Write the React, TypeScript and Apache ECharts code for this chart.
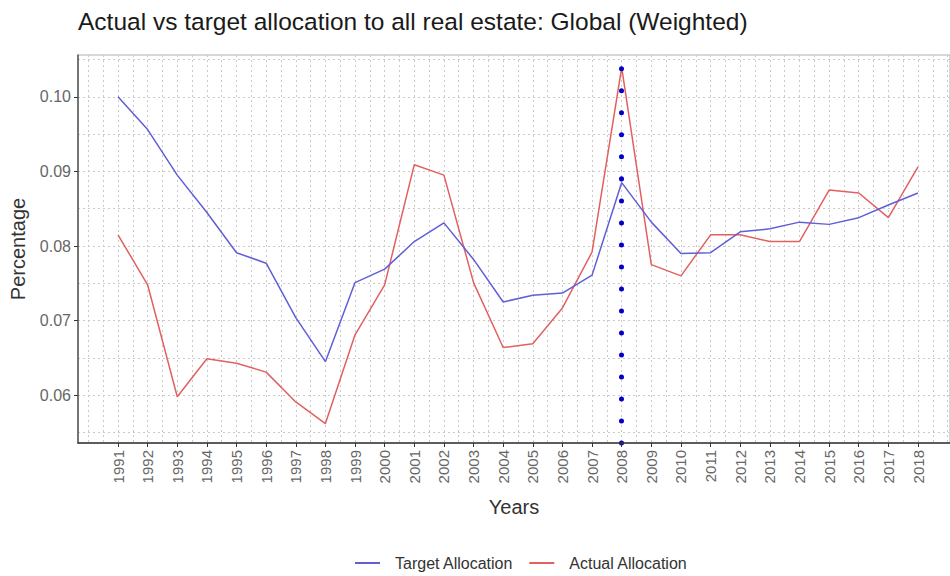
import React, { useEffect, useRef } from "react";
import * as echarts from "echarts";

const years = [
  1991, 1992, 1993, 1994, 1995, 1996, 1997, 1998, 1999, 2000, 2001, 2002, 2003, 2004,
  2005, 2006, 2007, 2008, 2009, 2010, 2011, 2012, 2013, 2014, 2015, 2016, 2017, 2018,
];
const targetAllocation = [
  0.1, 0.0956, 0.0895, 0.0845, 0.0791, 0.0777, 0.0704, 0.0645, 0.0751, 0.0769, 0.0806,
  0.0831, 0.0782, 0.0725, 0.0734, 0.0737, 0.0761, 0.0885, 0.0832, 0.079, 0.0791, 0.0819,
  0.0823, 0.0832, 0.0829, 0.0838, 0.0855, 0.0871,
];
const actualAllocation = [
  0.0815, 0.0748, 0.0598, 0.0649, 0.0643, 0.0631, 0.0591, 0.0562, 0.0681, 0.0748, 0.0909,
  0.0895, 0.0751, 0.0664, 0.0669, 0.0717, 0.0792, 0.1039, 0.0775, 0.076, 0.0815, 0.0815,
  0.0806, 0.0806, 0.0875, 0.0871, 0.0838, 0.0906,
];
const markerYear = 2008;
const yTickLabels = [0.06, 0.07, 0.08, 0.09, 0.1];
const yGridValues = [0.055, 0.06, 0.065, 0.07, 0.075, 0.08, 0.085, 0.09, 0.095, 0.1, 0.105];
const xGridValues = [
  1990, 1990.5, 1991, 1991.5, 1992, 1992.5, 1993, 1993.5, 1994, 1994.5, 1995, 1995.5, 1996,
  1996.5, 1997, 1997.5, 1998, 1998.5, 1999, 1999.5, 2000, 2000.5, 2001, 2001.5, 2002, 2002.5,
  2003, 2003.5, 2004, 2004.5, 2005, 2005.5, 2006, 2006.5, 2007, 2007.5, 2008, 2008.5, 2009,
  2009.5, 2010, 2010.5, 2011, 2011.5, 2012, 2012.5, 2013, 2013.5, 2014, 2014.5, 2015, 2015.5,
  2016, 2016.5, 2017, 2017.5, 2018, 2018.5, 2019,
];

const FONT = "Liberation Sans, Arial, sans-serif";
const gridLine = { show: true, lineStyle: { color: "#cacaca", type: [2, 3], width: 1 } };

export default function App() {
  const ref = useRef<HTMLDivElement>(null);
  useEffect(() => {
    document.body.style.margin = "0";
    const chart = echarts.init(ref.current!, undefined, { renderer: "svg" });
    const xMin = 1989.65;
    const xMax = 2019.08;
    const yMin = 0.0536;
    const yMax = 0.1056;
    chart.setOption({
      animation: false,
      backgroundColor: "#ffffff",
      textStyle: { fontFamily: FONT },
      title: {
        text: "Actual vs target allocation to all real estate: Global (Weighted)",
        left: 73,
        top: 4,
        textStyle: { fontFamily: FONT, fontSize: 24.5, fontWeight: "normal", color: "#1a1a1a" },
      },
      legend: {
        left: 350,
        top: 550,
        itemWidth: 25,
        itemHeight: 2,
        itemGap: 16,
        icon: "rect",
        textStyle: { fontFamily: FONT, fontSize: 16, color: "#333", padding: [0, 0, 0, 10] },
        data: ["Target Allocation", "Actual Allocation"],
      },
      grid: {
        left: 78,
        right: 0,
        top: 55,
        bottom: 133,
        show: true,
        borderColor: "#b0b0b0",
        borderWidth: 1,
      },
      xAxis: [
        {
          type: "value",
          min: xMin,
          max: xMax,
          name: "Years",
          nameLocation: "middle",
          nameGap: 54,
          nameTextStyle: { fontFamily: FONT, fontSize: 20, color: "#333" },
          axisLine: { show: true, onZero: false, lineStyle: { color: "#333", width: 1.5 } },
          axisTick: { show: true, length: 4, customValues: years, lineStyle: { color: "#333" } },
          axisLabel: {
            customValues: years,
            rotate: 90,
            fontFamily: FONT,
            fontSize: 15,
            color: "#666",
            margin: 7,
            formatter: (v: number) => String(Math.round(v)),
          },
          splitLine: { show: false },
          z: 5,
        },
        {
          type: "value",
          min: xMin,
          max: xMax,
          position: "bottom",
          axisLine: { show: false },
          axisLabel: { show: false },
          axisTick: { show: false, customValues: xGridValues },
          splitLine: gridLine,
        },
      ],
      yAxis: [
        {
          type: "value",
          min: yMin,
          max: yMax,
          name: "Percentage",
          nameLocation: "middle",
          nameGap: 50,
          nameTextStyle: { fontFamily: FONT, fontSize: 20, color: "#333" },
          axisLine: { show: true, onZero: false, lineStyle: { color: "#555", width: 1.5 } },
          axisTick: { show: true, length: 4, customValues: yTickLabels, lineStyle: { color: "#333" } },
          axisLabel: {
            customValues: yTickLabels,
            fontFamily: FONT,
            fontSize: 16,
            color: "#666",
            margin: 7,
            formatter: (v: number) => v.toFixed(2),
          },
          splitLine: { show: false },
          z: 5,
        },
        {
          type: "value",
          min: yMin,
          max: yMax,
          position: "left",
          axisLine: { show: false },
          axisLabel: { show: false },
          axisTick: { show: false, customValues: yGridValues },
          splitLine: gridLine,
        },
      ],
      series: [
        {
          name: "Target Allocation",
          type: "line",
          xAxisIndex: 0,
          yAxisIndex: 0,
          data: years.map((y, i) => [y, targetAllocation[i]]),
          showSymbol: false,
          symbol: "none",
          color: "#5f5fd8",
          lineStyle: { color: "#5f5fd8", width: 1.5 },
          z: 3,
          markLine: {
            silent: true,
            symbol: "none",
            label: { show: false },
            lineStyle: { color: "#0000c8", type: [0.01, 22], width: 5, cap: "round" },
            data: [{ xAxis: markerYear }],
            z: 4,
          },
        },
        {
          name: "Actual Allocation",
          type: "line",
          xAxisIndex: 0,
          yAxisIndex: 0,
          data: years.map((y, i) => [y, actualAllocation[i]]),
          showSymbol: false,
          symbol: "none",
          color: "#e26060",
          lineStyle: { color: "#e26060", width: 1.5 },
          z: 2,
        },
      ],
    });
    return () => chart.dispose();
  }, []);
  return <div ref={ref} style={{ width: 950, height: 576 }} />;
}
